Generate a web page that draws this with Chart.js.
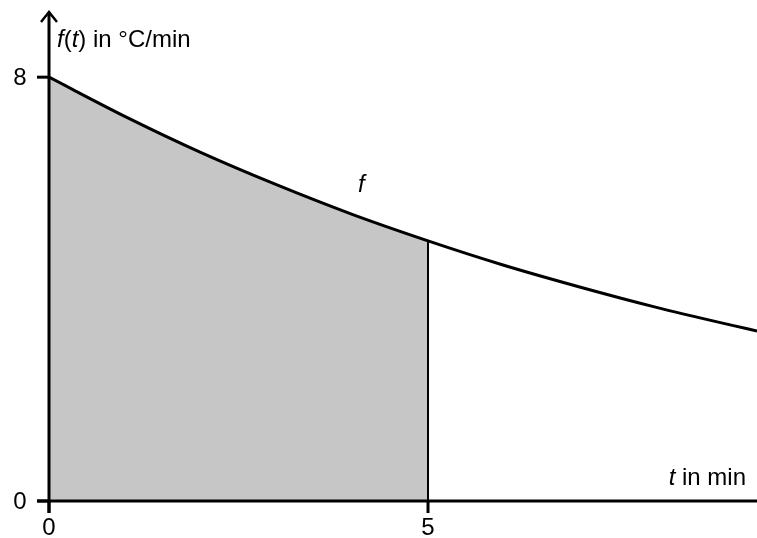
<!DOCTYPE html>
<html>
<head>
<meta charset="utf-8">
<script src="https://cdn.jsdelivr.net/npm/chart.js@4"></script>
<style>
html,body{margin:0;padding:0;background:#fff;}
#wrap{width:757px;height:538px;position:relative;}
</style>
</head>
<body>
<div id="wrap"><canvas id="c" width="757" height="538"></canvas></div>
<script>
// Data
const tValues = [0, 1, 2, 3, 4, 5, 6, 7, 8, 9, 9.34];
const fValues = [8, 7.26, 6.58, 5.97, 5.41, 4.91, 4.45, 4.04, 3.66, 3.32, 3.21];
const shadedEnd = 5;
const xTicks = [0, 5];
const yTicks = [0, 8];
const yTitle = "f(t) in °C/min";
const xTitle = "t in min";
const curveLabel = "f";

const curvePts = tValues.map((t, i) => ({x: t, y: fValues[i]}));
const shadedPts = curvePts.filter(p => p.x <= shadedEnd);

const FONT = '"Liberation Sans", Arial, sans-serif';
const FS = 24;

const axesPlugin = {
  id: 'axes',
  afterDatasetsDraw(chart) {
    const ctx = chart.ctx;
    const xs = chart.scales.x, ys = chart.scales.y;
    const x0 = xs.getPixelForValue(0), y0 = ys.getPixelForValue(0);
    const top = chart.chartArea.top, right = chart.chartArea.right;
    ctx.save();
    ctx.strokeStyle = '#000';
    ctx.fillStyle = '#000';
    // vertical line at shaded end
    const iEnd = tValues.indexOf(shadedEnd);
    ctx.lineWidth = 2;
    ctx.beginPath();
    ctx.moveTo(xs.getPixelForValue(shadedEnd), y0);
    ctx.lineTo(xs.getPixelForValue(shadedEnd), ys.getPixelForValue(fValues[iEnd]));
    ctx.stroke();
    // axes
    ctx.lineWidth = 3;
    ctx.beginPath();
    ctx.moveTo(x0, y0 + 12);
    ctx.lineTo(x0, top);
    ctx.moveTo(x0 - 12, y0);
    ctx.lineTo(right, y0);
    ctx.stroke();
    // arrow
    ctx.lineWidth = 2.5;
    ctx.beginPath();
    ctx.moveTo(x0 - 8, top + 10);
    ctx.lineTo(x0, top);
    ctx.lineTo(x0 + 8, top + 10);
    ctx.stroke();
    // ticks
    ctx.lineWidth = 3;
    ctx.font = FS + 'px ' + FONT;
    ctx.textAlign = 'center';
    ctx.textBaseline = 'middle';
    yTicks.forEach(v => {
      const py = ys.getPixelForValue(v);
      ctx.beginPath(); ctx.moveTo(x0 - 12, py); ctx.lineTo(x0, py); ctx.stroke();
      ctx.fillText(String(v), x0 - 29, py + 1);
    });
    xTicks.forEach(v => {
      const px = xs.getPixelForValue(v);
      ctx.beginPath(); ctx.moveTo(px, y0); ctx.lineTo(px, y0 + 12); ctx.stroke();
      ctx.fillText(String(v), px, y0 + 27);
    });
    // titles
    ctx.textAlign = 'left';
    ctx.textBaseline = 'alphabetic';
    let x = x0 + 8, y = 47;
    const parts = [['f', true], ['(', false], ['t', true], [') in °C/min', false]];
    parts.forEach(([s, it]) => {
      ctx.font = (it ? 'italic ' : '') + FS + 'px ' + FONT;
      ctx.fillText(s, x, y);
      x += ctx.measureText(s).width;
    });
    ctx.font = FS + 'px ' + FONT;
    const rest = ' in min';
    const wRest = ctx.measureText(rest).width;
    ctx.font = 'italic ' + FS + 'px ' + FONT;
    const wT = ctx.measureText('t').width;
    let xr = 746 - wRest - wT;
    ctx.fillText('t', xr, 485);
    ctx.font = FS + 'px ' + FONT;
    ctx.fillText(rest, xr + wT, 485);
    // curve label
    ctx.font = 'italic ' + FS + 'px ' + FONT;
    ctx.textAlign = 'center';
    ctx.fillText(curveLabel, xs.getPixelForValue(4.12), 192);
    ctx.restore();
  }
};

new Chart(document.getElementById('c'), {
  type: 'scatter',
  data: {
    datasets: [
      {
        data: shadedPts,
        showLine: true,
        fill: 'origin',
        backgroundColor: '#c6c6c6',
        borderWidth: 0,
        borderColor: 'rgba(0,0,0,0)',
        pointRadius: 0,
        cubicInterpolationMode: 'monotone',
        order: 2
      },
      {
        data: curvePts,
        showLine: true,
        fill: false,
        borderColor: '#000',
        borderWidth: 3,
        pointRadius: 0,
        cubicInterpolationMode: 'monotone',
        order: 1
      }
    ]
  },
  options: {
    responsive: false,
    animation: false,
    devicePixelRatio: 1,
    layout: {padding: {left: 49, right: 0, top: 12, bottom: 37}},
    plugins: {legend: {display: false}, tooltip: {enabled: false}},
    scales: {
      x: {type: 'linear', display: false, min: 0, max: 9.34},
      y: {type: 'linear', display: false, min: 0, max: 9.23}
    }
  },
  plugins: [axesPlugin]
});
</script>
</body>
</html>
